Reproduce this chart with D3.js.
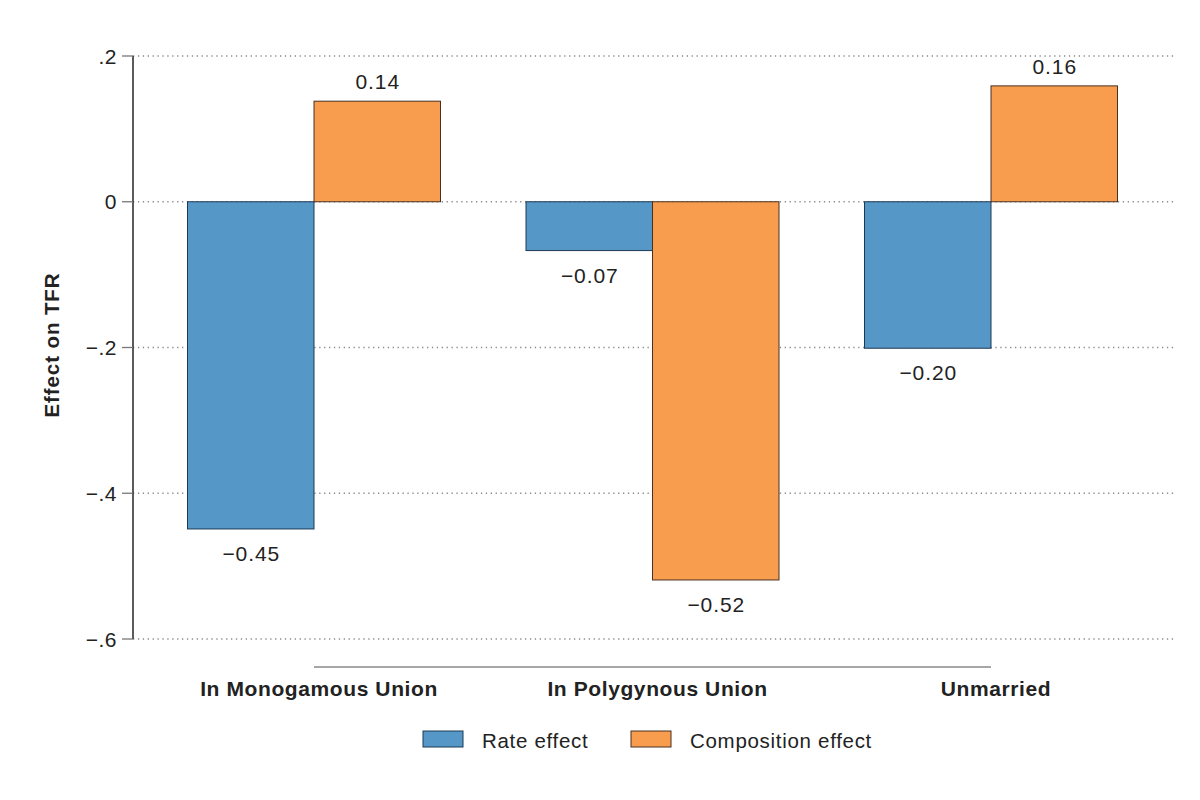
<!DOCTYPE html>
<html>
<head>
<meta charset="utf-8">
<script src="https://cdn.jsdelivr.net/npm/d3@7"></script>
<style>
  body { margin: 0; background: #fff; }
  text { font-family: "Liberation Sans", Arial, Helvetica, sans-serif; fill: #222; }
</style>
</head>
<body>
<div class="canvas"></div>
<script>
const categories = ['In Monogamous Union', 'In Polygynous Union', 'Unmarried'];
const seriesNames = ['Rate effect', 'Composition effect'];
const rateValues = [-0.449, -0.067, -0.201];
const compositionValues = [0.138, -0.519, 0.159];
const yTicks = [0.2, 0, -0.2, -0.4, -0.6];
const yTickLabels = ['.2', '0', '\u2212.2', '\u2212.4', '\u2212.6'];

const colors = {'Rate effect': '#5597c6', 'Composition effect': '#f89d4e'};
const strokes = {'Rate effect': '#1d3a55', 'Composition effect': '#4a3020'};

const width = 1200, height = 800;
const svg = d3.select('.canvas').append('svg')
    .attr('width', width).attr('height', height);

// y scale: .2 at 56, -.6 at 639
const y = d3.scaleLinear().domain([0.2, -0.6]).range([56, 639]);

// group centres via point scale between first and last category
const x = d3.scalePoint().domain(categories).range([314, 991]);
const barW = 126.5;

// gridlines
svg.append('g').selectAll('line').data(yTicks).enter().append('line')
    .attr('x1', 133).attr('x2', 1176)
    .attr('y1', d => y(d)).attr('y2', d => y(d))
    .attr('stroke', '#8a8a8a').attr('stroke-width', 1.3)
    .attr('stroke-dasharray', '1.3,3.6');

// bars
const data = [];
categories.forEach((c, i) => {
    data.push({cat: c, series: seriesNames[0], value: rateValues[i], off: -1});
    data.push({cat: c, series: seriesNames[1], value: compositionValues[i], off: 0});
});

svg.append('g').selectAll('rect').data(data).enter().append('rect')
    .attr('x', d => x(d.cat) + d.off * barW)
    .attr('width', barW)
    .attr('y', d => y(Math.max(0, d.value)))
    .attr('height', d => Math.abs(y(d.value) - y(0)))
    .attr('fill', d => colors[d.series])
    .attr('stroke', d => strokes[d.series])
    .attr('stroke-width', 1);

// value labels
const fmt = d => (d < 0 ? '\u2212' : '') + d3.format('.2f')(Math.abs(d));
svg.append('g').selectAll('text').data(data).enter().append('text')
    .attr('x', d => x(d.cat) + d.off * barW + barW / 2 + 0.5)
    .attr('y', d => d.value >= 0 ? y(d.value) - 12 : y(d.value) + 32)
    .attr('text-anchor', 'middle')
    .attr('font-size', 21).attr('letter-spacing', 0.9)
    .text(d => fmt(d.value));

// y axis
const yAxis = svg.append('g');
yAxis.append('line')
    .attr('x1', 133).attr('x2', 133)
    .attr('y1', y(0.2)).attr('y2', y(-0.6))
    .attr('stroke', '#333').attr('stroke-width', 1.6);
yAxis.selectAll('.tick').data(yTicks).enter().append('line')
    .attr('x1', 122).attr('x2', 133)
    .attr('y1', d => y(d)).attr('y2', d => y(d))
    .attr('stroke', '#777').attr('stroke-width', 1.3);
yAxis.selectAll('.lbl').data(yTicks).enter().append('text')
    .attr('x', 117).attr('y', d => y(d) + 7.5)
    .attr('text-anchor', 'end')
    .attr('font-size', 21).attr('letter-spacing', 0.5)
    .text((d, i) => yTickLabels[i]);

svg.append('text')
    .attr('transform', `translate(59,345) rotate(-90)`)
    .attr('text-anchor', 'middle')
    .attr('font-size', 20.5).attr('font-weight', 'bold').attr('letter-spacing', 0.9)
    .text('Effect on TFR');

// x axis
svg.append('line')
    .attr('x1', x(categories[0])).attr('x2', x(categories[categories.length - 1]))
    .attr('y1', 667).attr('y2', 667)
    .attr('stroke', '#888').attr('stroke-width', 1.3);
svg.append('g').selectAll('text').data(categories).enter().append('text')
    .attr('x', d => x(d) + 5).attr('y', 696)
    .attr('text-anchor', 'middle')
    .attr('font-size', 21).attr('font-weight', 'bold').attr('letter-spacing', 0.6)
    .text(d => d);

// legend
const legendX = [423, 631];
const legend = svg.append('g').selectAll('g').data(seriesNames).enter().append('g')
    .attr('transform', (d, i) => `translate(${legendX[i]},731)`);
legend.append('rect')
    .attr('width', 40).attr('height', 16)
    .attr('fill', d => colors[d]).attr('stroke', d => strokes[d]).attr('stroke-width', 1);
legend.append('text')
    .attr('x', 59).attr('y', 16.5)
    .attr('font-size', 20.5).attr('letter-spacing', 0.7)
    .text(d => d);
</script>
</body>
</html>
